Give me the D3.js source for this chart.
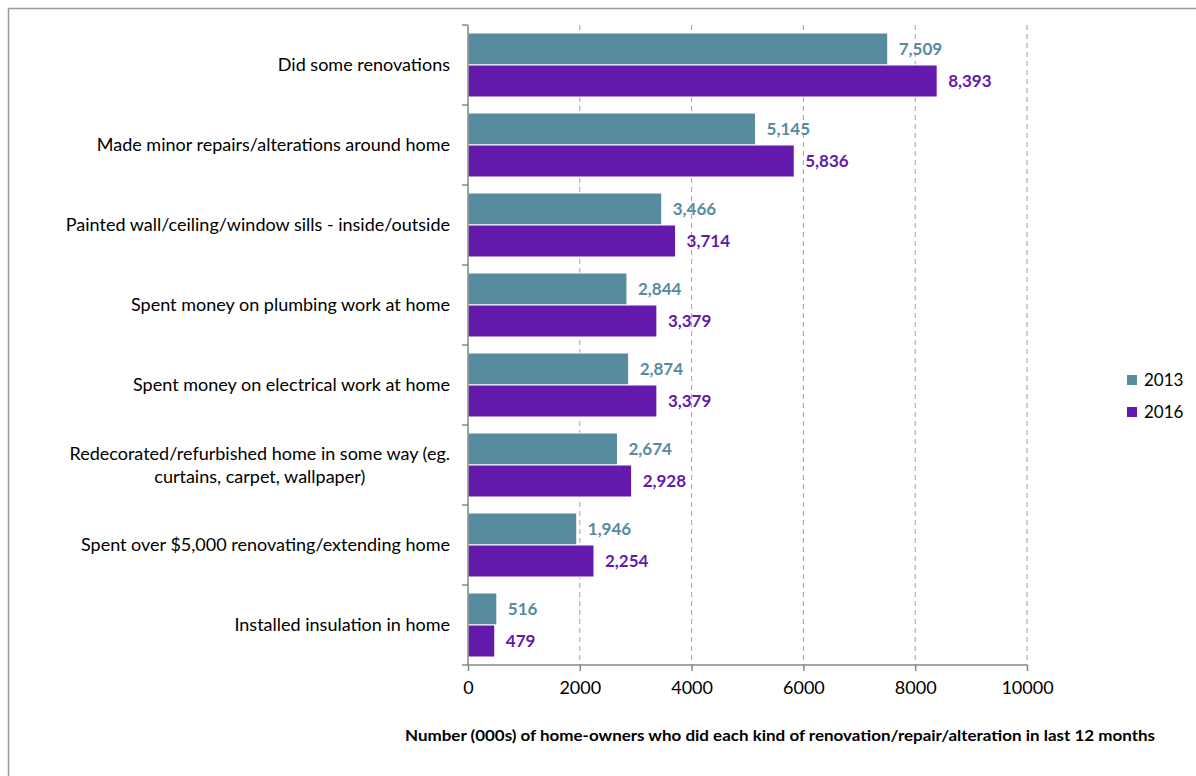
<!DOCTYPE html>
<html><head><meta charset="utf-8">
<script src="https://cdn.jsdelivr.net/npm/d3@7"></script>
<style>body{margin:0;background:#fff}svg{display:block}text{font-family:Lato,"Open Sans",sans-serif}</style>
</head><body>
<script>
const categories = [
  "Did some renovations",
  "Made minor repairs/alterations around home",
  "Painted wall/ceiling/window sills - inside/outside",
  "Spent money on plumbing work at home",
  "Spent money on electrical work at home",
  "Redecorated/refurbished home in some way (eg.|curtains, carpet, wallpaper)",
  "Spent over $5,000 renovating/extending home",
  "Installed insulation in home"
];
const series = ["2013", "2016"];
const values2013 = [7509, 5145, 3466, 2844, 2874, 2674, 1946, 516];
const values2016 = [8393, 5836, 3714, 3379, 3379, 2928, 2254, 479];
const xTicks = [0, 2000, 4000, 6000, 8000, 10000];
const xTitle = "Number (000s)  of home-owners who did each kind of renovation/repair/alteration in last 12 months";
const colors = {"2013": "#568BA0", "2016": "#6419AD"};

const W = 1196, H = 776;
const svg = d3.select("body").append("svg").attr("width", W).attr("height", H);

svg.append("rect").attr("x", 8.5).attr("y", 8.5).attr("width", W + 20).attr("height", H + 20)
  .attr("fill", "none").attr("stroke", "#9a9a9a").attr("stroke-width", 1.5);

const x = d3.scaleLinear().domain([0, 10000]).range([468, 1027]);
const y = d3.scaleBand().domain(categories).range([25, 665]).paddingInner(0.2).paddingOuter(0.1);
const y1 = d3.scaleBand().domain(series).range([0, y.bandwidth()]);

// gridlines
svg.append("g").selectAll("line").data(xTicks.filter(d => d > 0)).join("line")
  .attr("x1", d => x(d)).attr("x2", d => x(d)).attr("y1", 25).attr("y2", 665)
  .attr("stroke", "#a0a0a0").attr("stroke-width", 1).attr("stroke-dasharray", "5,4");

// bars
const data = [];
categories.forEach((c, i) => {
  data.push({c, s: "2013", v: values2013[i]});
  data.push({c, s: "2016", v: values2016[i]});
});
svg.append("g").selectAll("rect").data(data).join("rect")
  .attr("x", x(0)).attr("y", d => y(d.c) + y1(d.s))
  .attr("width", d => x(d.v) - x(0)).attr("height", y1.bandwidth())
  .attr("fill", d => colors[d.s]).attr("stroke", "#fff").attr("stroke-width", 1);

// value labels
svg.append("g").selectAll("text").data(data).join("text")
  .attr("x", d => x(d.v) + 11).attr("y", d => y(d.c) + y1(d.s) + y1.bandwidth() / 2)
  .attr("dy", "0.36em").attr("fill", d => colors[d.s])
  .attr("font-size", 17).attr("font-weight", "bold")
  .text(d => d3.format(",")(d.v));

// x axis
const xa = svg.append("g").attr("transform", "translate(0,665)")
  .call(d3.axisBottom(x).tickValues(xTicks).tickSize(6).tickPadding(10).tickFormat(d => d));
xa.select(".domain").attr("stroke", "#868686").attr("stroke-width", 1.5).attr("d", "M468,0H1027");
xa.selectAll(".tick line").attr("stroke", "#868686").attr("stroke-width", 1.5);
xa.selectAll(".tick text").attr("font-size", 18).attr("fill", "#000").attr("font-family", "Lato");

// y axis
svg.append("line").attr("x1", 468).attr("x2", 468).attr("y1", 25).attr("y2", 665)
  .attr("stroke", "#868686").attr("stroke-width", 1.5);
const step = y.step();
svg.append("g").selectAll("line").data(d3.range(categories.length + 1)).join("line")
  .attr("x1", 462).attr("x2", 468)
  .attr("y1", i => 25 + i * step).attr("y2", i => 25 + i * step)
  .attr("stroke", "#868686").attr("stroke-width", 1.5);

// category labels
const lab = svg.append("g");
categories.forEach(c => {
  const lines = c.split("|");
  const cy = y(c) + y.bandwidth() / 2;
  const lh = 23;
  const g = lab.append("g");
  const ts = lines.map((t, k) => g.append("text")
    .attr("y", cy + (k - (lines.length - 1) / 2) * lh).attr("dy", "0.35em")
    .attr("font-size", 18).attr("fill", "#000").text(t));
  const widths = ts.map(t => t.node().getComputedTextLength());
  const maxW = Math.max(...widths);
  const center = 450 - maxW / 2;
  ts.forEach(t => t.attr("x", center).attr("text-anchor", "middle"));
});

// legend
const lg = svg.append("g");
series.forEach((s, i) => {
  lg.append("rect").attr("x", 1127).attr("y", 375 + i * 32).attr("width", 10).attr("height", 10).attr("fill", colors[s]);
  lg.append("text").attr("x", 1144).attr("y", 380 + i * 32).attr("dy", "0.36em")
    .attr("font-size", 17).attr("fill", "#000").text(s);
});

// x title
svg.append("text").attr("x", 780).attr("y", 741).attr("text-anchor", "middle")
  .attr("font-size", 16).attr("font-weight", "bold").attr("fill", "#000")
  .attr("textLength", 750).attr("lengthAdjust", "spacingAndGlyphs").text(xTitle);
</script>
</body></html>
